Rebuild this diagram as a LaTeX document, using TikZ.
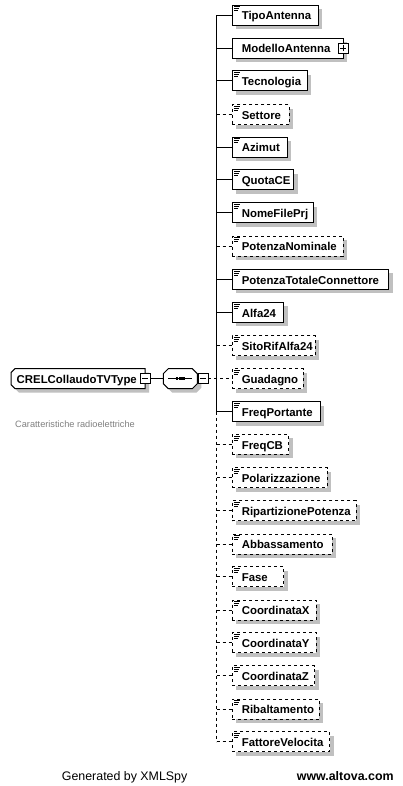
\documentclass[tikz,border=0pt]{standalone}
\usepackage{fontspec}
\setmainfont{Liberation Sans}
\usetikzlibrary{shadows}
\pgfdeclarelayer{bg}
\pgfdeclarelayer{paper}
\pgfsetlayers{paper,bg,main}
\definecolor{shadowgray}{RGB}{192,192,192}
\definecolor{capgray}{RGB}{128,128,128}
\newcommand\elicon[1]{%
  \draw[line width=0.8pt] ([shift={(1.8pt,-1.6pt)}]#1.north west) -- ++(6,0);
  \draw[line width=0.8pt] ([shift={(1.8pt,-3.6pt)}]#1.north west) -- ++(4.5,0);
  \draw[line width=0.8pt] ([shift={(1.8pt,-5.6pt)}]#1.north west) -- ++(3.5,0);}
\begin{document}
\begin{tikzpicture}[x=1pt,y=-1pt,
  box/.style={draw, line width=1pt, fill=white, minimum height=20pt, inner xsep=9.5pt, inner ysep=0pt,
    outer sep=0pt, anchor=west, align=left, text width=#1, text height=11pt, text depth=1.6pt,
    font=\bfseries\fontsize{11.4}{13}\selectfont,
    drop shadow={shadow xshift=4pt, shadow yshift=-4pt, opacity=1, fill=shadowgray}},
  opt/.style={box=#1, dash pattern=on 3pt off 3pt},
  conn/.style={line width=1pt},
  optconn/.style={line width=1pt, dash pattern=on 3pt off 3pt},
  minibox/.style={draw, line width=0.8pt, fill=white, minimum size=10pt, inner sep=0pt, outer sep=0pt},
  shapebox/.style={draw=none, outer sep=0pt, minimum height=20pt, inner ysep=0pt}
]
\begin{pgfonlayer}{paper}
\fill[white] (0,0) rectangle (402,786);
\end{pgfonlayer}
\useasboundingbox (0,0) rectangle (402,786);

% root type
\node[shapebox, inner xsep=5.7pt, text width=122.6pt, align=left, text height=11pt, text depth=1.6pt,
  font=\bfseries\fontsize{11.4}{13}\selectfont] (crel) at (78,378.7) {CRELCollaudoTVType};
\begin{pgfonlayer}{bg}
  \fill[shadowgray, transform canvas={shift={(4pt,-4pt)}}]
    ([xshift=4pt]crel.north west) -- (crel.north east) -- (crel.south east) -- ([xshift=4pt]crel.south west)
    -- ([yshift=4pt]crel.south west) -- ([yshift=-4pt]crel.north west) -- cycle;
  \draw[line width=1pt, fill=white]
    ([xshift=4pt]crel.north west) -- (crel.north east) -- (crel.south east) -- ([xshift=4pt]crel.south west)
    -- ([yshift=4pt]crel.south west) -- ([yshift=-4pt]crel.north west) -- cycle;
\end{pgfonlayer}
\node[minibox] (crelm) at (145,378.7) {};
\draw[line width=0.8pt] ([xshift=-3pt]crelm.center) -- ([xshift=3pt]crelm.center);

% sequence compositor
\node[shapebox, minimum width=34pt, inner sep=0pt] (seq) at (180.3,378.7) {};
\begin{pgfonlayer}{bg}
  \fill[shadowgray, transform canvas={shift={(4pt,-4pt)}}]
    ([xshift=5pt]seq.north west) -- ([xshift=-5pt]seq.north east) -- ([yshift=-5pt]seq.north east)
    -- ([yshift=5pt]seq.south east) -- ([xshift=-5pt]seq.south east) -- ([xshift=5pt]seq.south west)
    -- ([yshift=5pt]seq.south west) -- ([yshift=-5pt]seq.north west) -- cycle;
  \draw[line width=1pt, fill=white]
    ([xshift=5pt]seq.north west) -- ([xshift=-5pt]seq.north east) -- ([yshift=-5pt]seq.north east)
    -- ([yshift=5pt]seq.south east) -- ([xshift=-5pt]seq.south east) -- ([xshift=5pt]seq.south west)
    -- ([yshift=5pt]seq.south west) -- ([yshift=-5pt]seq.north west) -- cycle;
\end{pgfonlayer}
\draw[line width=1pt] ([xshift=-12pt]seq.center) -- ([xshift=12pt]seq.center);
\foreach \dx in {-3.4,0,3.4}
  \fill ([xshift=\dx pt]seq.center) +(-1.4,-1.4) rectangle +(1.4,1.4);
\node[minibox] (seqm) at (203,378.7) {};
\draw[line width=0.8pt] ([xshift=-3pt]seqm.center) -- ([xshift=3pt]seqm.center);

\draw[conn] (crelm.east) -- (seq.west);

% child elements
\node[box=66.7pt] (tipo) at (232.3,15.3) {TipoAntenna};
\node[box=91.7pt] (modello) at (232.3,48.3) {ModelloAntenna};
\node[box=55.7pt] (tecn) at (232.3,81) {Tecnologia};
\node[opt=38pt] (sett) at (232.3,114.7) {Settore};
\node[box=35.7pt] (azim) at (232.3,147.3) {Azimut};
\node[box=42.3pt] (quota) at (232.3,180) {QuotaCE};
\node[box=62pt] (nome) at (232.3,212.7) {NomeFilePrj};
\node[opt=91.7pt] (potn) at (232.3,246) {PotenzaNominale};
\node[box=137.3pt] (pottc) at (232.3,279.3) {PotenzaTotaleConnettore};
\node[box=32.3pt] (alfa) at (232.3,312.3) {Alfa24};
\node[opt=64pt] (sito) at (232.3,345.7) {SitoRifAlfa24};
\node[opt=51.7pt] (guad) at (232.3,378.7) {Guadagno};
\node[box=69pt] (freqp) at (232.3,411.7) {FreqPortante};
\node[opt=37.3pt] (freqcb) at (232.3,444.3) {FreqCB};
\node[opt=75.7pt] (polar) at (232.3,477.7) {Polarizzazione};
\node[opt=105pt] (ripart) at (232.3,510.7) {RipartizionePotenza};
\node[opt=80.7pt] (abbass) at (232.3,544) {Abbassamento};
\node[opt=32.3pt] (fase) at (232.3,576.7) {Fase};
\node[opt=64.7pt] (coordx) at (232.3,610) {CoordinataX};
\node[opt=64.7pt] (coordy) at (232.3,642.7) {CoordinataY};
\node[opt=63.3pt] (coordz) at (232.3,675.7) {CoordinataZ};
\node[opt=68pt] (ribalt) at (232.3,709) {Ribaltamento};
\node[opt=78.3pt] (fattv) at (232.3,741.7) {FattoreVelocita};

\foreach \n in {tipo,tecn,sett,azim,quota,nome,potn,pottc,alfa,sito,guad,freqp,freqcb,polar,ripart,abbass,fase,coordx,coordy,coordz,ribalt,fattv}
  {\elicon{\n}}

\node[minibox] (modplus) at (modello.east) {};
\draw[line width=0.8pt] ([xshift=-3pt]modplus.center) -- ([xshift=3pt]modplus.center)
  ([yshift=-3pt]modplus.center) -- ([yshift=3pt]modplus.center);

% connectors
\coordinate (bus) at (216.7,0);
\draw[conn] (bus |- tipo.west) -- (bus |- freqp.west);
\draw[optconn] (bus |- freqp.west) -- (bus |- fattv.west);
\foreach \n in {tipo,modello,tecn,azim,quota,nome,pottc,alfa,freqp}
  {\draw[conn] (bus |- \n.west) -- (\n.west);}
\foreach \n in {sett,potn,sito,freqcb,polar,ripart,abbass,fase,coordx,coordy,coordz,ribalt,fattv}
  {\draw[optconn] (bus |- \n.west) -- (\n.west);}
\draw[optconn] (seqm.east) -- (guad.west);

% texts
\node[anchor=base west, inner sep=0pt, text=capgray, font=\fontsize{9.2}{11}\selectfont] (cap) at (15,427) {Caratteristiche radioelettriche};
\node[anchor=base west, inner sep=0pt, font=\fontsize{12.4}{14}\selectfont] (gen) at (61.7,780.5) {Generated by XMLSpy};
\node[anchor=base west, inner sep=0pt, font=\bfseries\fontsize{12.4}{14}\selectfont] (alt) at (296.7,780.5) {www.altova.com};
\end{tikzpicture}
\end{document}
